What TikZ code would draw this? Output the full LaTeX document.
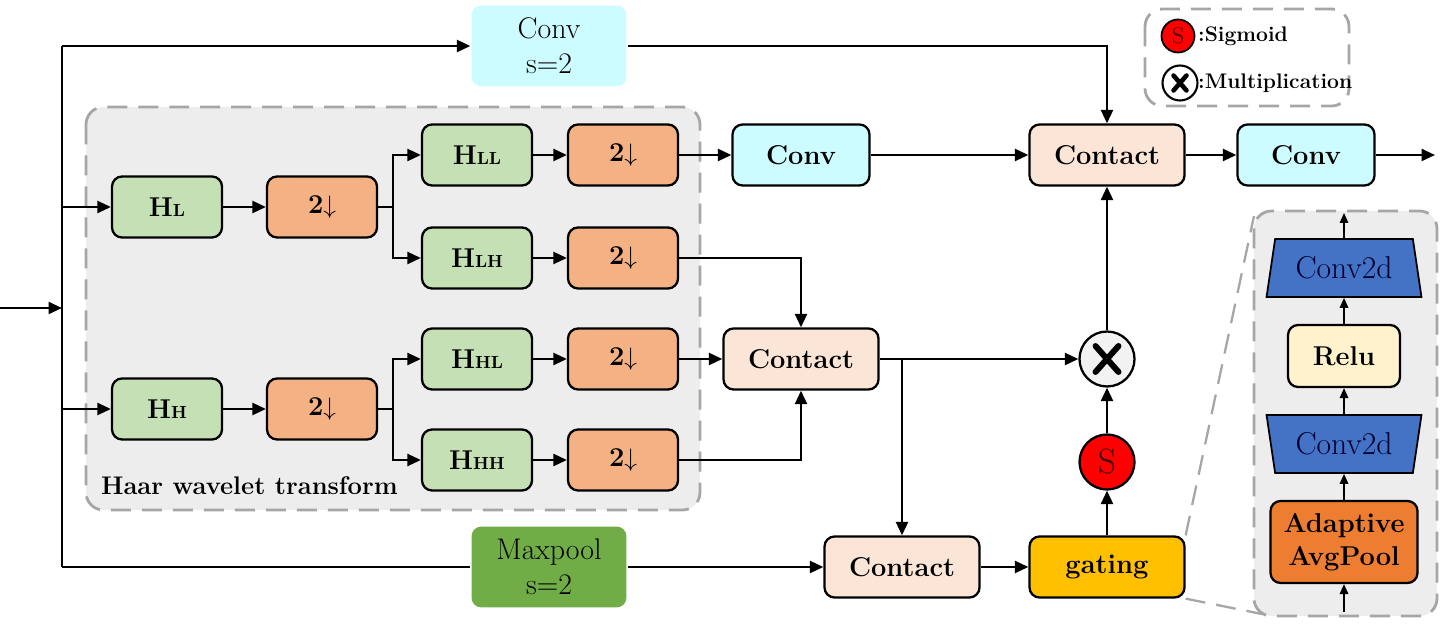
\documentclass[tikz,border=0pt]{standalone}
\usepackage{amsmath}
\usepackage{amssymb}
\usepackage{fontspec}
\usepackage{tikz}
\usetikzlibrary{arrows.meta}
\usetikzlibrary{shapes.geometric}
\usetikzlibrary{calc}
\definecolor{haargray}{HTML}{EDEDED}
\definecolor{dashgray}{HTML}{A6A6A6}
\definecolor{hgreen}{HTML}{C5E0B4}
\definecolor{dsorange}{HTML}{F4B183}
\definecolor{convcyan}{HTML}{CCFCFF}
\definecolor{contactpink}{HTML}{FBE5D6}
\definecolor{maxgreen}{HTML}{70AD47}
\definecolor{gateyellow}{HTML}{FFC000}
\definecolor{convblue}{HTML}{4472C4}
\definecolor{reluyellow}{HTML}{FFF2CC}
\definecolor{poolorange}{HTML}{ED7D31}
\definecolor{mulgray}{HTML}{F2F2F2}

\begin{document}
\begin{tikzpicture}[x=0.02cm,y=-0.02cm,
    >={Triangle[length=2.7mm,width=2.4mm]},
    line width=1.3pt,
    blk/.style={draw=black,line width=1.3pt,rounded corners=0.2cm,minimum height=1.22cm,
                inner sep=0pt,font=\fontsize{15.5}{18}\selectfont\bfseries},
    hbox/.style={blk,fill=hgreen,minimum width=2.2cm},
    dsbox/.style={blk,fill=dsorange,minimum width=2.2cm},
    convbox/.style={blk,fill=convcyan,minimum width=2.74cm},
    catbox/.style={blk,fill=contactpink,minimum width=3.1cm},
    sbox/.style={rounded corners=0.2cm,minimum width=3.1cm,minimum height=1.62cm,inner sep=0pt,
                 align=center,font=\fontsize{17}{20}\selectfont},
    opcircle/.style={circle,draw=black,line width=1.3pt,minimum size=1.1cm,inner sep=0pt},
    mulsign/.style n args={3}{path picture={\draw[line width=#1,line cap=round]
                    ($(path picture bounding box.center)+(-#2,-#3)$) -- ($(path picture bounding box.center)+(#2,#3)$)
                    ($(path picture bounding box.center)+(-#2,#3)$) -- ($(path picture bounding box.center)+(#2,-#3)$);}},
    trap/.style={trapezium,trapezium left angle=75,trapezium right angle=75,trapezium stretches=true,
                 draw=black,line width=1pt,fill=convblue,minimum width=3.1cm,minimum height=1.16cm,
                 inner sep=0pt,text=black!80!blue,font=\fontsize{18}{20}\selectfont},
    small/.style={->,line width=0.9pt,>={Triangle[length=2mm,width=1.7mm]}},
    dashframe/.style={draw=dashgray,line width=1.6pt,dash pattern=on 0.4cm off 0.22cm,rounded corners=0.35cm}
  ]
  \def\ds{2$\downarrow$}
  \useasboundingbox (0,0) rectangle (1440,624);

  % frames
  \draw[dashframe,fill=haargray] (86,107) rectangle (700,510);
  \draw[dashframe] (1145,9) rectangle (1349,106);

  \coordinate (in) at (0,308);
  \coordinate (trunk) at (62,308);
  \coordinate (top) at (62,46);
  \coordinate (bot) at (62,567);
  \coordinate (out) at (1435,155);

  % main path
  \node[sbox,fill=convcyan] (convs) at (549,46) {Conv\\s=2};
  \node[hbox] (hl) at (167,207) {H{\fontsize{10}{10}\selectfont L}};
  \node[dsbox] (dl) at (322,207) {\ds};
  \node[hbox] (hll) at (477,155) {H{\fontsize{10}{10}\selectfont LL}};
  \node[hbox] (hlh) at (477,258) {H{\fontsize{10}{10}\selectfont LH}};
  \node[dsbox] (dll) at (623,155) {\ds};
  \node[dsbox] (dlh) at (623,258) {\ds};
  \node[hbox] (hh) at (167,409) {H{\fontsize{10}{10}\selectfont H}};
  \node[dsbox] (dh) at (322,409) {\ds};
  \node[hbox] (hhl) at (477,359) {H{\fontsize{10}{10}\selectfont HL}};
  \node[hbox] (hhh) at (477,460) {H{\fontsize{10}{10}\selectfont HH}};
  \node[dsbox] (dhl) at (623,359) {\ds};
  \node[dsbox] (dhh) at (623,460) {\ds};
  \node[anchor=base west,inner sep=0pt,font=\fontsize{14.5}{17}\selectfont\bfseries] (haar) at (100,495) {Haar wavelet transform};

  \node[convbox] (conv1) at (801,155) {Conv};
  \node[catbox] (cat1) at (1107,155) {Contact};
  \node[convbox] (conv2) at (1306,155) {Conv};
  \node[catbox] (cat2) at (801,359) {Contact};
  \node[opcircle,fill=mulgray,mulsign={3.4pt}{0.23cm}{0.26cm}] (mul) at (1107,359) {};
  \node[opcircle,fill=red,font=\fontsize{20}{20}\selectfont\color{black!75!red}] (sig) at (1107,462) {S};
  \node[sbox,fill=maxgreen] (mp) at (549,567) {Maxpool\\s=2};
  \node[catbox] (cat3) at (902,567) {Contact};
  \node[catbox,fill=gateyellow] (gate) at (1107,567) {gating};

  \draw[->] (in) -- (trunk);
  \draw (top) -- (bot);
  \draw[->] (top) -- (convs);
  \draw[->] (convs.east) -| (cat1.north);
  \draw[->] (hl -| trunk) -- (hl);
  \draw[->] (hl) -- (dl);
  \draw[->] (dl.east) -- ++(15,0) |- (hll);
  \draw[->] (dl.east) -- ++(15,0) |- (hlh);
  \draw[->] (hll) -- (dll);
  \draw[->] (hlh) -- (dlh);
  \draw[->] (hh -| trunk) -- (hh);
  \draw[->] (hh) -- (dh);
  \draw[->] (dh.east) -- ++(15,0) |- (hhl);
  \draw[->] (dh.east) -- ++(15,0) |- (hhh);
  \draw[->] (hhl) -- (dhl);
  \draw[->] (hhh) -- (dhh);

  \draw[->] (dll) -- (conv1);
  \draw[->] (conv1) -- (cat1);
  \draw[->] (cat1) -- (conv2);
  \draw[->] (conv2.east) -- (out);
  \draw[->] (dlh.east) -| (cat2.north);
  \draw[->] (dhl) -- (cat2);
  \draw[->] (dhh.east) -| (cat2.south);
  \draw[->] (cat2) -- (mul);
  \draw[->] (cat2.east -| cat3) -- (cat3);
  \draw (bot) -- (mp);
  \draw[->] (mp) -- (cat3);
  \draw[->] (cat3) -- (gate);
  \draw[->] (gate) -- (sig);
  \draw[->] (sig) -- (mul);
  \draw[->] (mul) -- (cat1);

  % gating detail
  \draw[dashgray,line width=1.3pt,dash pattern=on 0.4cm off 0.22cm] (gate.north east) -- (1254,216);
  \draw[dashgray,line width=1.3pt,dash pattern=on 0.4cm off 0.22cm] (gate.south east) -- (1262,614);
  \draw[dashframe,fill=haargray] (1254,211) rectangle (1437,616);
  \coordinate (gin) at (1344,612);
  \coordinate (gout) at (1344,213);
  \node[trap] (c2a) at (1344,268) {Conv2d};
  \node[blk,fill=reluyellow,minimum width=2.24cm,minimum height=1.24cm] (relu) at (1344,356) {Relu};
  \node[trap,shape border rotate=180] (c2b) at (1344,444) {Conv2d};
  \node[blk,fill=poolorange,minimum width=2.94cm,minimum height=1.64cm,align=center,
        font=\fontsize{15.5}{19}\selectfont\bfseries] (pool) at (1344,542) {Adaptive\\AvgPool};
  \draw[small] (gin) -- (pool);
  \draw[small] (pool) -- (c2b);
  \draw[small] (c2b) -- (relu);
  \draw[small] (relu) -- (c2a);
  \draw[small] (c2a) -- (gout);

  % legend
  \node[circle,draw=black,line width=1pt,fill=red,minimum size=0.66cm,inner sep=0pt,
        font=\fontsize{13}{13}\selectfont\color{black!75!red}] (ls) at (1178,36) {S};
  \node[anchor=west,inner sep=0pt,font=\fontsize{12}{14}\selectfont\bfseries] (lstext) at (1197,36) {:Sigmoid};
  \node[circle,draw=black,line width=1.2pt,fill=white,minimum size=0.7cm,inner sep=0pt,
        mulsign={2.6pt}{0.13cm}{0.15cm}] (lm) at (1180,83) {};
  \node[anchor=west,inner sep=0pt,font=\fontsize{12}{14}\selectfont\bfseries] (lmtext) at (1197,83) {:Multiplication};
\end{tikzpicture}
\end{document}
